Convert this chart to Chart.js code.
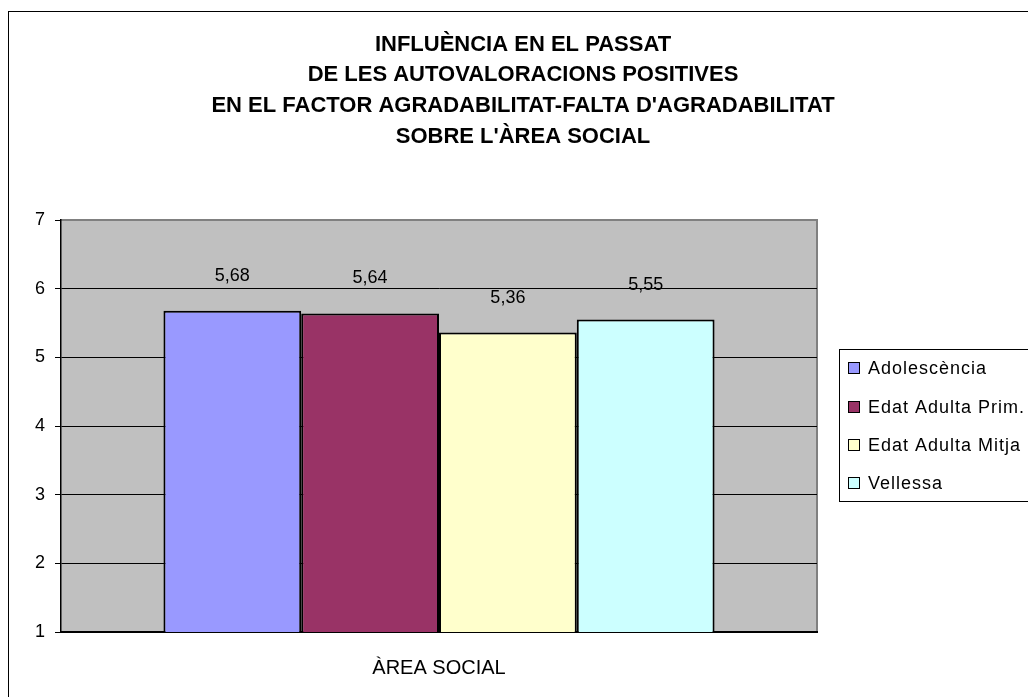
<!DOCTYPE html>
<html>
<head>
<meta charset="utf-8">
<script src="https://cdn.jsdelivr.net/npm/chart.js@4.4.1/dist/chart.umd.min.js"></script>
<style>
html,body{margin:0;padding:0;background:#fff;}
#wrap{width:1028px;height:697px;position:relative;}
</style>
</head>
<body>
<div id="wrap"><canvas id="c" width="1028" height="697"></canvas></div>
<script>
const titleLines = ["INFLUÈNCIA EN EL PASSAT","DE LES AUTOVALORACIONS POSITIVES","EN EL FACTOR AGRADABILITAT-FALTA D'AGRADABILITAT","SOBRE L'ÀREA SOCIAL"];
const categories = ["ÀREA SOCIAL"];
const seriesNames = ["Adolescència","Edat Adulta Prim.","Edat Adulta Mitja","Vellessa"];
const seriesValues = [[5.68],[5.64],[5.36],[5.55]];
const seriesColors = ["#9999FF","#993366","#FFFFCC","#CCFFFF"];
const yTicks = [1,2,3,4,5,6,7];

const FONT = "Arial, 'Liberation Sans', sans-serif";

const framePlugin = {
  id:'frame',
  beforeDraw(chart){
    const c = chart.ctx, a = chart.chartArea;
    c.save();
    c.fillStyle='#fff'; c.fillRect(0,0,chart.width,chart.height);
    c.strokeStyle='#000'; c.lineWidth=1;
    c.strokeRect(8.5,11.5,1100,800);
    c.fillStyle='#C0C0C0';
    c.fillRect(a.left,a.top,a.right-a.left,a.bottom-a.top);
    c.strokeStyle='#808080'; c.lineWidth=2;
    c.beginPath(); c.moveTo(a.left,a.top); c.lineTo(a.right,a.top); c.lineTo(a.right,a.bottom); c.stroke();
    // title
    c.fillStyle='#000'; c.textAlign='center'; c.textBaseline='middle';
    c.font = "bold 22px " + FONT;
    const ys=[45,75,106,137];
    titleLines.forEach((t,i)=>c.fillText(t,523,ys[i]));
    c.restore();
  },
  afterDraw(chart){
    const c = chart.ctx;
    c.save();
    // data labels
    c.fillStyle='#000'; c.textAlign='center'; c.textBaseline='middle';
    c.font = "18px " + FONT;
    chart.data.datasets.forEach((ds,i)=>{
      const meta = chart.getDatasetMeta(i);
      meta.data.forEach((bar,j)=>{
        c.fillText(String(ds.data[j].toFixed(2)).replace('.',','), bar.x, bar.y-35);
      });
    });
    // legend
    c.strokeStyle='#000'; c.lineWidth=1;
    c.fillStyle='#fff';
    c.fillRect(839.5,349.5,300,152);
    c.strokeRect(839.5,349.5,300,152);
    c.font = "18px " + FONT;
    c.textAlign='left';
    try { c.letterSpacing = '1px'; } catch(e) {}
    const rows=[368,407,445,483];
    chart.data.datasets.forEach((ds,i)=>{
      c.fillStyle=ds.backgroundColor;
      c.fillRect(848.5,rows[i]-5.5,11,11);
      c.strokeRect(848.5,rows[i]-5.5,11,11);
      c.fillStyle='#000';
      c.fillText(ds.label,868,rows[i]+1);
    });
    c.restore();
  }
};

new Chart(document.getElementById('c'),{
  type:'bar',
  data:{
    labels:categories,
    datasets:seriesNames.map((n,i)=>({
      label:n,
      data:seriesValues[i],
      backgroundColor:seriesColors[i],
      borderColor:'#000',
      borderWidth:2,
      borderSkipped:false,
      categoryPercentage:0.729,
      barPercentage:1
    }))
  },
  options:{
    responsive:false,
    animation:false,
    devicePixelRatio:1,
    layout:{padding:{top:220,right:211,bottom:0,left:0}},
    plugins:{legend:{display:false},title:{display:false},tooltip:{enabled:false}},
    scales:{
      x:{
        offset:true,
        grid:{display:false},
        border:{display:true,color:'#000',width:2},
        ticks:{color:'#000',font:{family:FONT,size:20},padding:16},
        afterFit(s){s.height=65;}
      },
      y:{
        min:1,max:7,
        afterBuildTicks(s){s.ticks=yTicks.map(v=>({value:v}));},
        grid:{color:c=>c.tick&&c.tick.value===7?'#808080':'#000',tickColor:'#000',tickLength:6,lineWidth:1},
        border:{display:true,color:'#000',width:1.5},
        ticks:{color:'#000',font:{family:FONT,size:18},padding:10},
        afterFit(s){s.width=61;}
      }
    }
  },
  plugins:[framePlugin]
});
</script>
</body>
</html>
